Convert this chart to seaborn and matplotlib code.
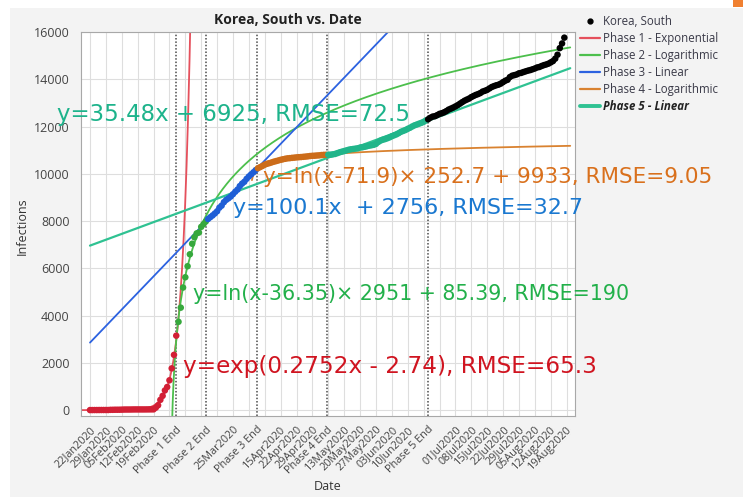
import numpy as np
import pandas as pd
import matplotlib
matplotlib.use("Agg")
import matplotlib.pyplot as plt
import seaborn as sns
from matplotlib.lines import Line2D
from matplotlib.patches import Rectangle

# Cumulative confirmed infections, South Korea, 22 Jan 2020 .. 18 Aug 2020
jan_cases = [1, 1, 2, 2, 3, 4, 4, 4, 4, 11]
feb_cases = [12, 15, 15, 16, 19, 23, 24, 24, 25, 27, 28, 28, 28, 28, 28, 29, 30, 31, 31,
             104, 204, 433, 602, 833, 977, 1261, 1766, 2337, 3150]
mar_cases = [3736, 4335, 5186, 5621, 6088, 6593, 7041, 7314, 7478, 7513, 7755, 7869, 7979,
             8086, 8162, 8236, 8320, 8413, 8565, 8652, 8799, 8897, 8961, 9037, 9137, 9241,
             9332, 9478, 9583, 9661, 9786]
apr_cases = [9887, 9976, 10062, 10156, 10237, 10284, 10331, 10384, 10423, 10450, 10480,
             10512, 10537, 10564, 10591, 10613, 10635, 10653, 10661, 10674, 10683, 10694,
             10702, 10708, 10718, 10728, 10738, 10752, 10761, 10765]
may_cases = [10774, 10780, 10793, 10801, 10804, 10806, 10810, 10822, 10840, 10874, 10909,
             10936, 10962, 10991, 11018, 11037, 11050, 11065, 11078, 11110, 11122, 11142,
             11165, 11190, 11206, 11225, 11265, 11344, 11402, 11441, 11468]
jun_cases = [11503, 11541, 11590, 11629, 11668, 11719, 11776, 11814, 11852, 11902, 11947,
             12003, 12051, 12085, 12121, 12155, 12198, 12257, 12306, 12373, 12421, 12438,
             12484, 12535, 12563, 12602, 12653, 12715, 12757, 12800]
jul_cases = [12850, 12904, 12967, 13030, 13091, 13137, 13181, 13244, 13293, 13338, 13373,
             13417, 13479, 13512, 13551, 13612, 13672, 13711, 13745, 13771, 13816, 13879,
             13938, 13979, 14092, 14150, 14175, 14203, 14251, 14269, 14305]
aug_cases = [14336, 14366, 14389, 14423, 14456, 14499, 14519, 14562, 14598, 14626, 14660,
             14714, 14770, 14873, 15039, 15318, 15515, 15761]

start_date = pd.Timestamp("2020-01-22")

# Last day (day 1 = 22 Jan) of each fitted phase
phase_labels = ["Phase 1 End", "Phase 2 End", "Phase 3 End", "Phase 4 End", "Phase 5 End"]
phase_end_day = [39, 52, 74.7, 105.6, 149.8]

series_names = ["Korea, South", "Phase 1 - Exponential", "Phase 2 - Logarithmic",
                "Phase 3 - Linear", "Phase 4 - Logarithmic", "Phase 5 - Linear"]

# Weekly date ticks; the ones crowded by a phase marker carry no label
week_days = list(range(1, 212, 7))
hidden_week_labels = ["26Feb2020", "04Mar2020", "11Mar2020", "18Mar2020", "01Apr2020",
                      "08Apr2020", "06May2020", "17Jun2020", "24Jun2020"]

eq_texts = [
    "y=35.48x + 6925, RMSE=72.5",
    "y=ln(x-71.9)\u00d7 252.7 + 9933, RMSE=9.05",
    "y=100.1x  + 2756, RMSE=32.7",
    "y=ln(x-36.35)\u00d7 2951 + 85.39, RMSE=190",
    "y=exp(0.2752x - 2.74), RMSE=65.3",
]

# ---- styling ---------------------------------------------------------------
sns.set_style("white")
plt.rcParams["font.family"] = ["Open Sans", "DejaVu Sans"]

pt_colors = ["#d21f35", "#36a83c", "#1f5ed6", "#cc6c1a", "#21b58a", "#000000"]
fit_colors = ["#e5505c", "#4cbf4c", "#2c62e0", "#d98230", "#2fc292"]
eq_colors = ["#1db38b", "#d9701c", "#1a78d0", "#22b04a", "#d01420"]

W, H = 743, 497
fig = plt.figure(figsize=(W / 100, H / 100), dpi=100, facecolor="#f3f3f3")
fig.patches.append(Rectangle((0, 1 - 8 / H), 1, 8 / H, transform=fig.transFigure,
                             facecolor="white", edgecolor="none", zorder=-5))
fig.patches.append(Rectangle((0, 0), 10 / W, 1, transform=fig.transFigure,
                             facecolor="white", edgecolor="none", zorder=-5))
fig.patches.append(Rectangle((733 / W, 1 - 7 / H), 10 / W, 7 / H, transform=fig.transFigure,
                             facecolor="#f08030", edgecolor="none", zorder=-4))

ax = fig.add_axes([80.7 / W, 1 - 416 / H, (575 - 80.7) / W, 384 / H])
ax.set_facecolor("white")

# ---- data frame ------------------------------------------------------------
cases = jan_cases + feb_cases + mar_cases + apr_cases + may_cases + jun_cases + jul_cases + aug_cases
days = np.arange(1, len(cases) + 1)
phase_idx = np.searchsorted(np.array(phase_end_day), days, side="left")
df = pd.DataFrame({"day": days, "cases": cases,
                   "phase": [f"p{i}" for i in phase_idx]})

# ---- fitted curves (from the stated equations) -----------------------------
x_end = 212.6
fits = []
xs = np.linspace(-3, 46, 300)
fits.append((xs, np.exp(0.2752 * xs - 2.74)))
xs = np.linspace(36.36, x_end, 1500)
fits.append((xs, np.log(xs - 36.35) * 2951 + 85.39))
xs = np.linspace(1, 133, 50)
fits.append((xs, 100.1 * xs + 2756))
xs = np.linspace(72.35, x_end, 800)
fits.append((xs, np.log(xs - 71.9) * 252.7 + 9933))
xs = np.linspace(1, x_end, 50)
fits.append((xs, 35.48 * xs + 6925))

# grid and phase markers
for d in week_days:
    ax.axvline(d, color="#dedede", lw=0.8, zorder=0)
for y in range(0, 16001, 2000):
    ax.axhline(y, color="#dedede", lw=0.8, zorder=0)
for d in phase_end_day:
    ax.axvline(d, color="#4a4a4a", lw=1.1, ls=(0, (1, 1.2)), zorder=1)

for i, (fx, fy) in enumerate(fits):
    sns.lineplot(x=fx, y=fy, color=fit_colors[i], lw=1.6 if i == 4 else 1.3,
                 sort=False, estimator=None, ax=ax, zorder=2)

palette = {f"p{i}": c for i, c in enumerate(pt_colors)}
sns.scatterplot(data=df, x="day", y="cases", hue="phase", palette=palette, s=22,
                linewidth=0, legend=False, ax=ax, zorder=3)

ax.set_xlim(-3.1, 214.7)
ax.set_ylim(-250, 16000)

# ---- axes ticks ------------------------------------------------------------
tick_pos, tick_lab = [], []
for d in week_days:
    lab = (start_date + pd.Timedelta(days=d - 1)).strftime("%d%b%Y")
    tick_pos.append(d)
    tick_lab.append("" if lab in hidden_week_labels else lab)
tick_pos += phase_end_day
tick_lab += phase_labels
ax.set_xticks(tick_pos)
ax.set_xticklabels(tick_lab, rotation=45, ha="right", rotation_mode="anchor",
                   fontsize=7.8, color="#444444")
ax.set_yticks(range(0, 16001, 2000))
ax.set_yticks(range(1000, 16000, 2000), minor=True)
ax.set_yticklabels([str(v) for v in range(0, 16001, 2000)], fontsize=9, color="#444444")
ax.tick_params(axis="both", which="major", length=4, width=0.8, color="#888888", pad=2)
ax.tick_params(axis="y", which="major", pad=4)
ax.tick_params(axis="y", which="minor", length=2, width=0.8, color="#888888")
ax.set_xlabel("")
ax.set_ylabel("")
for sp in ax.spines.values():
    sp.set_color("#a8a8a8")
    sp.set_linewidth(0.8)

# ---- titles ----------------------------------------------------------------
fig.text(288 / W, 1 - 20 / H, "Korea, South vs. Date", ha="center", va="center",
         fontsize=10, fontweight="bold", color="#222222")
fig.text(22 / W, 1 - 226 / H, "Infections", rotation=90, ha="center", va="center",
         fontsize=9, color="#333333")
fig.text(328 / W, 1 - 487 / H, "Date", ha="center", va="center",
         fontsize=9, color="#333333")

# ---- fit equations ---------------------------------------------------------
eq_pos = [(57, 121), (263, 183), (233, 214), (193, 300), (183, 373)]
eq_sizes = [16.5, 15.5, 16.0, 14.9, 16.7]
for (px, py), s, c, fs in zip(eq_pos, eq_texts, eq_colors, eq_sizes):
    fig.text(px / W, 1 - py / H, s, color=c, fontsize=fs, ha="left", va="baseline",
             family=["DejaVu Sans"])

# ---- legend ----------------------------------------------------------------
handles = [Line2D([], [], ls="none", marker="o", color="black", markersize=3.5)]
for i, c in enumerate(fit_colors):
    handles.append(Line2D([], [], color=c, lw=2.8 if i == 4 else 1.6))
leg = fig.legend(handles, series_names, loc="upper left",
                 bbox_to_anchor=(580 / W, 1 - 15 / H), frameon=False, fontsize=8.3,
                 handlelength=1.7, handletextpad=0.3, labelspacing=0.34,
                 borderpad=0, borderaxespad=0)
for t in leg.get_texts():
    t.set_color("#3a3a48")
leg.get_texts()[-1].set_fontweight("bold")
leg.get_texts()[-1].set_fontstyle("italic")
leg.get_texts()[-1].set_color("#222222")

fig.savefig("out.png", dpi=100, facecolor=fig.get_facecolor())
